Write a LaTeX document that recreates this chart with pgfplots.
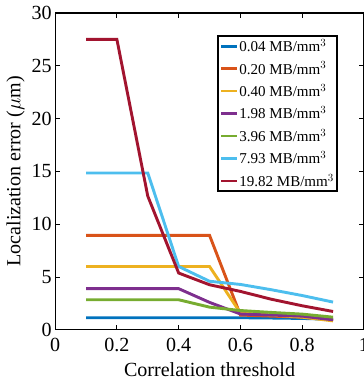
\documentclass[border=0pt]{standalone}
\usepackage{pgfplots}
\pgfplotsset{compat=1.18}
\usepackage{fontspec}
\setmainfont{Liberation Serif}
\definecolor{c1}{rgb}{0,0.447,0.741}
\definecolor{c2}{rgb}{0.85,0.325,0.098}
\definecolor{c3}{rgb}{0.929,0.694,0.125}
\definecolor{c4}{rgb}{0.494,0.184,0.556}
\definecolor{c5}{rgb}{0.466,0.674,0.188}
\definecolor{c6}{rgb}{0.301,0.745,0.933}
\definecolor{c7}{rgb}{0.635,0.078,0.184}
\begin{document}
\begin{tikzpicture}[trim axis right]
\begin{axis}[
  scale only axis,
  width=308pt, height=316pt,
  xmin=0, xmax=1, ymin=0, ymax=30,
  xtick={0,0.2,0.4,0.6,0.8,1},
  xticklabels={0,0.2,0.4,0.6,0.8,1},
  ytick={0,5,10,15,20,25,30},
  tick align=inside,
  major tick length=5pt,
  axis line style={line width=1.2pt},
  tick style={line width=1pt,black},
  /pgf/number format/assume math mode=true,
  tick label style={font=\fontsize{20}{22}\selectfont},
  xticklabel style={yshift=-5pt},
  xlabel={Correlation threshold},
  ylabel={Localization error ($\mu$m)},
  label style={font=\fontsize{20}{22}\selectfont},
  xlabel style={yshift=-4pt},
  ylabel style={yshift=0pt},
  legend cell align=left,
  legend style={at={(0.916,0.93)}, anchor=north east, draw=black, line width=1.8pt,
    font=\fontsize{15}{17}\selectfont, row sep=6.2pt, inner sep=2pt,
    nodes={inner sep=1.2pt},
    /tikz/every even column/.append style={column sep=0pt}},
  legend image code/.code={\draw[#1, line width=2.6pt] (0cm,0cm) -- (0.55cm,0cm);},
  every axis plot/.append style={line width=2.9pt},
]
\addplot[c1] coordinates {(0.1,1.15)(0.2,1.15)(0.3,1.15)(0.4,1.15)(0.5,1.15)(0.6,1.15)(0.7,1.12)(0.8,1.08)(0.9,1.0)};
\addlegendentry{0.04 MB/mm$^3$}
\addplot[c2] coordinates {(0.1,8.95)(0.2,8.95)(0.3,8.95)(0.4,8.95)(0.5,8.95)(0.6,1.4)(0.7,1.3)(0.8,1.2)(0.9,0.95)};
\addlegendentry{0.20 MB/mm$^3$}
\addplot[c3] coordinates {(0.1,6.0)(0.2,6.0)(0.3,6.0)(0.4,6.0)(0.5,6.0)(0.6,1.6)(0.7,1.4)(0.8,1.2)(0.9,0.85)};
\addlegendentry{0.40 MB/mm$^3$}
\addplot[c4] coordinates {(0.1,3.9)(0.2,3.9)(0.3,3.9)(0.4,3.9)(0.5,2.6)(0.6,1.5)(0.7,1.4)(0.8,1.3)(0.9,0.95)};
\addlegendentry{1.98 MB/mm$^3$}
\addplot[c5] coordinates {(0.1,2.85)(0.2,2.85)(0.3,2.85)(0.4,2.85)(0.5,2.15)(0.6,1.83)(0.7,1.65)(0.8,1.49)(0.9,1.2)};
\addlegendentry{3.96 MB/mm$^3$}
\addplot[c6] coordinates {(0.1,14.85)(0.2,14.85)(0.3,14.85)(0.4,6.0)(0.5,4.6)(0.6,4.3)(0.7,3.8)(0.8,3.25)(0.9,2.63)};
\addlegendentry{7.93 MB/mm$^3$}
\addplot[c7] coordinates {(0.1,27.5)(0.2,27.5)(0.3,12.66)(0.4,5.38)(0.5,4.27)(0.6,3.64)(0.7,2.9)(0.8,2.28)(0.9,1.74)};
\addlegendentry{19.82 MB/mm$^3$}
\end{axis}
\path ([xshift=-55pt,yshift=13pt]current axis.north west);
\path ([xshift=-55pt,yshift=-56pt]current axis.south west);
\end{tikzpicture}
\end{document}
